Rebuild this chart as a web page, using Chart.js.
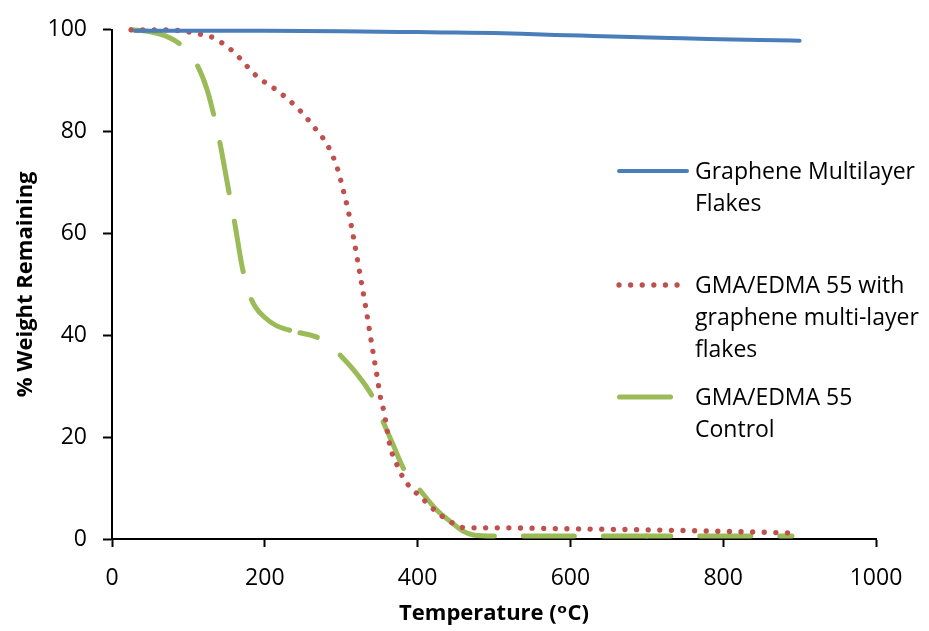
<!DOCTYPE html>
<html>
<head>
<meta charset="utf-8">
<script src="https://cdn.jsdelivr.net/npm/chart.js@4"></script>
<style>
  html, body { margin: 0; padding: 0; background: #fff; }
  #wrap { width: 929px; height: 631px; }
</style>
</head>
<body>
<div id="wrap"><canvas id="tga" width="929" height="631"></canvas></div>
<script>
// temperatures (°C) and % weight remaining
const grapheneTemps = [30, 100, 200, 300, 350, 400, 450, 500, 535, 580, 630, 680, 730, 780, 830, 870, 900];
const grapheneWeight = [99.8, 99.8, 99.8, 99.7, 99.6, 99.55, 99.45, 99.35, 99.2, 99.0, 98.8, 98.6, 98.4, 98.2, 98.05, 97.95, 97.85];

const compositeTemps = [25, 60, 90, 110, 133, 158, 190, 215, 245, 265, 283, 295, 303, 310, 316, 324, 332, 337, 342, 347, 352, 356, 364, 375, 382, 392, 403, 425, 445, 462, 500, 600, 700, 800, 890];
const compositeWeight = [100, 100, 99.8, 99.3, 98.4, 95.8, 90.8, 88.2, 84.3, 80.8, 77.1, 72.8, 68.3, 63.9, 59.3, 52.5, 45.6, 41, 36.4, 31.9, 27.3, 25, 18.2, 13.9, 11.8, 9.9, 8.4, 5.3, 3.2, 2.2, 2.2, 2.0, 1.8, 1.5, 1.2];

const controlTemps = [25, 50, 70, 89, 100, 112, 125, 133, 141, 153, 160, 171, 181, 188, 200, 215, 230, 246, 270, 285, 300, 320, 340, 355, 368, 381, 392, 403, 425, 445, 460, 473, 500, 600, 700, 800, 890];
const controlWeight = [100, 99.6, 98.8, 97.2, 95.5, 92.9, 88, 83.4, 78, 68.2, 62.6, 53, 47.6, 45.5, 43.5, 41.9, 41.1, 40.5, 39.5, 38, 35.9, 32.5, 28.2, 23, 18.5, 14, 11.5, 9.6, 5.7, 3.2, 1.5, 0.8, 0.6, 0.6, 0.6, 0.6, 0.6];

const seriesNames = [
  ["Graphene Multilayer", "Flakes"],
  ["GMA/EDMA 55 with", "graphene multi-layer", "flakes"],
  ["GMA/EDMA 55", "Control"]
];

const xTicks = [0, 200, 400, 600, 800, 1000];
const yTicks = [0, 20, 40, 60, 80, 100];

const FONT = "'Open Sans', 'DejaVu Sans', sans-serif";

function points(xs, ys) {
  return xs.map((x, i) => ({ x: x, y: ys[i] }));
}

// the original long-dash restarts its pattern in a few places; mimic that
function controlDashOffset(c) {
  const t = c.p0.parsed.x;
  if (t >= 700) return 27;
  if (t >= 445) return 5;
  if (t >= 403) return 0;
  if (t >= 246) return 33;
  return 0;
}

// legend with wrapped text, drawn by hand
const sideLegend = {
  id: "sideLegend",
  afterDraw(chart) {
    const ctx = chart.ctx;
    const rows = [171, 285, 397];
    const lineGap = 32;
    ctx.save();
    chart.data.datasets.forEach((ds, i) => {
      const y = rows[i];
      ctx.strokeStyle = ds.borderColor;
      ctx.lineWidth = ds.borderWidth;
      ctx.lineCap = "round";
      ctx.setLineDash(ds.borderDash || []);
      ctx.beginPath();
      if (i === 0) { ctx.moveTo(619, y); ctx.lineTo(687, y); }
      else if (i === 1) { ctx.moveTo(619, y); ctx.lineTo(684, y); }
      else { ctx.setLineDash([]); ctx.moveTo(619.5, y); ctx.lineTo(670.5, y); }
      ctx.stroke();
      ctx.setLineDash([]);
      ctx.fillStyle = "#000";
      ctx.font = "23px " + FONT;
      ctx.textBaseline = "middle";
      ctx.textAlign = "left";
      seriesNames[i].forEach((t, j) => ctx.fillText(t, 695, y + 1 + j * lineGap));
    });
    ctx.restore();
  }
};

const ctx = document.getElementById("tga").getContext("2d");
new Chart(ctx, {
  type: "line",
  data: {
    datasets: [
      {
        label: seriesNames[0].join(" "),
        data: points(grapheneTemps, grapheneWeight),
        borderColor: "#4A7EBB",
        borderWidth: 4,
        borderCapStyle: "round",
        cubicInterpolationMode: "monotone",
        pointRadius: 0,
        clip: false
      },
      {
        label: seriesNames[1].join(" "),
        data: points(compositeTemps, compositeWeight),
        borderColor: "#C0504D",
        borderWidth: 5.3,
        borderDash: [0.01, 11.6],
        borderCapStyle: "round",
        cubicInterpolationMode: "monotone",
        pointRadius: 0,
        clip: false
      },
      {
        label: seriesNames[2].join(" "),
        data: points(controlTemps, controlWeight),
        borderColor: "#9BBB59",
        borderWidth: 5,
        borderDash: [51, 29],
        borderCapStyle: "round",
        cubicInterpolationMode: "monotone",
        segment: { borderDashOffset: controlDashOffset },
        pointRadius: 0,
        clip: false
      }
    ]
  },
  options: {
    responsive: false,
    animation: false,
    layout: { padding: { top: 28, right: 53, left: 0, bottom: 0 } },
    plugins: {
      legend: { display: false },
      tooltip: { enabled: false }
    },
    scales: {
      x: {
        type: "linear",
        min: 0,
        max: 1000,
        afterBuildTicks: (s) => { s.ticks = xTicks.map((v) => ({ value: v })); },
        afterFit: (s) => { s.height = 92; },
        border: { color: "#000", width: 2 },
        grid: { drawOnChartArea: false, drawTicks: true, tickLength: 8, tickColor: "#000", tickWidth: 2 },
        ticks: { color: "#000", font: { family: FONT, size: 23 }, padding: 18, callback: (v) => String(v) },
        title: {
          display: true,
          text: "Temperature (ᵒC)",
          color: "#000",
          font: { family: FONT, size: 22, weight: "bold" },
          padding: { top: 0, bottom: 4 }
        }
      },
      y: {
        min: 0,
        max: 100,
        afterBuildTicks: (s) => { s.ticks = yTicks.map((v) => ({ value: v })); },
        afterFit: (s) => { s.width = 112; },
        border: { color: "#000", width: 2 },
        grid: { drawOnChartArea: false, drawTicks: true, tickLength: 9, tickColor: "#000", tickWidth: 2 },
        ticks: { color: "#000", font: { family: FONT, size: 23 }, padding: 16, callback: (v) => String(v) },
        title: {
          display: true,
          text: "% Weight Remaining",
          color: "#000",
          font: { family: FONT, size: 22, weight: "bold" },
          padding: { top: 13, bottom: 0 }
        }
      }
    }
  },
  plugins: [sideLegend]
});
</script>
</body>
</html>
